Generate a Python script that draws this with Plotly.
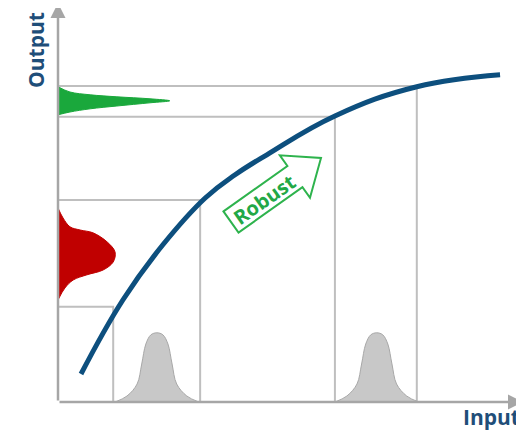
import math
import plotly.graph_objects as go

# ---------------- data (logical units: input 0..10, output 0..10) ----------------
curve_input = [0.50, 1.41, 2.28, 3.20, 3.85, 4.54, 6.02, 7.80, 9.61]
curve_output = [0.70, 2.55, 3.93, 5.10, 5.68, 6.18, 7.15, 7.88, 8.18]

# reference lines: (input, output) operating points
ref_input = [1.20, 3.09, 6.02, 7.80]
ref_output = [2.38, 5.05, 7.13, 7.90]

# input distributions (grey bells on x axis)
bell_centers = [2.15, 6.93]
bell_offsets = [-0.91, -0.65, -0.43, -0.33, -0.24, -0.13, 0.0, 0.13, 0.24, 0.33, 0.43, 0.65, 0.91]
bell_heights = [0.0, 0.15, 0.45, 0.95, 1.45, 1.68, 1.73, 1.68, 1.45, 0.95, 0.45, 0.15, 0.0]

# output distribution (red, wide)
red_width = [0.0, 0.11, 0.26, 0.48, 0.76, 1.07, 1.24, 1.20, 0.98, 0.63, 0.33, 0.15, 0.0]
red_output = [4.85, 4.60, 4.38, 4.30, 4.23, 4.00, 3.75, 3.50, 3.30, 3.18, 3.05, 2.85, 2.55]

# output distribution (green, narrow)
green_width = [0.0, 0.26, 0.70, 1.28, 2.00, 2.43, 2.00, 1.28, 0.70, 0.26, 0.0]
green_output = [7.88, 7.75, 7.68, 7.63, 7.58, 7.53, 7.48, 7.40, 7.33, 7.25, 7.18]

# ---------------- geometry helpers (pixel <-> units) ----------------
PAGE_MARGIN = 8          # default body margin of the html page
W, H = 524 - PAGE_MARGIN, 430 - PAGE_MARGIN
X0, SX = 58, 46.0   # page pixel of input 0, pixels per input unit
Y0, SY = 402, 40.0  # page pixel of output 0, pixels per output unit


def ux(px):
    return (px - X0) / SX


def uy(py):
    return (Y0 - py) / SY


GRID = "#bfbfbf"
AXIS = "#a6a6a6"
BLUE = "#0d4f7e"
LABEL = "#1f4e79"
GREEN = "#22a846"
RED = "#c00000"

fig = go.Figure()

# reference L-lines
for xi, yo in zip(ref_input, ref_output):
    fig.add_trace(go.Scatter(x=[0, xi, xi], y=[yo, yo, 0], mode="lines",
                             line=dict(color=GRID, width=2), hoverinfo="skip", showlegend=False))

# grey bells
for c in bell_centers:
    fig.add_trace(go.Scatter(x=[c + o for o in bell_offsets], y=bell_heights, mode="lines",
                             line=dict(color="#a8a8a8", width=1, shape="spline"),
                             fill="toself", fillcolor="#c8c8c8", hoverinfo="skip", showlegend=False))

# red distribution
fig.add_trace(go.Scatter(x=red_width, y=red_output, mode="lines",
                         line=dict(color=RED, width=1, shape="spline"),
                         fill="toself", fillcolor=RED, hoverinfo="skip", showlegend=False))

# green distribution
fig.add_trace(go.Scatter(x=green_width, y=green_output, mode="lines",
                         line=dict(color="#1aa83c", width=1, shape="spline"),
                         fill="toself", fillcolor="#1aa83c", hoverinfo="skip", showlegend=False))

# main curve
fig.add_trace(go.Scatter(x=curve_input, y=curve_output, mode="lines",
                         line=dict(color=BLUE, width=5, shape="spline", smoothing=1.2),
                         hoverinfo="skip", showlegend=False))

# axes with arrowheads
fig.add_annotation(x=ux(523), y=0, ax=0, ay=0, xref="x", yref="y", axref="x", ayref="y",
                   showarrow=True, arrowhead=2, arrowsize=1.2, arrowwidth=2.5, arrowcolor=AXIS, text="")
fig.add_annotation(x=0, y=uy(3), ax=0, ay=0, xref="x", yref="y", axref="x", ayref="y",
                   showarrow=True, arrowhead=2, arrowsize=1.2, arrowwidth=2.5, arrowcolor=AXIS, text="")

# "Robust" outlined arrow (decoration)
tail = (231, 222)
tip = (321, 158)
dx, dy = tip[0] - tail[0], tip[1] - tail[1]
L = math.hypot(dx, dy)
d = (dx / L, dy / L)
p = (d[1], -d[0])  # perpendicular
sw, hw, hl = 13, 26, 32
base = (tail[0] + d[0] * (L - hl), tail[1] + d[1] * (L - hl))
pts = [
    (tail[0] + p[0] * sw, tail[1] + p[1] * sw),
    (base[0] + p[0] * sw, base[1] + p[1] * sw),
    (base[0] + p[0] * hw, base[1] + p[1] * hw),
    tip,
    (base[0] - p[0] * hw, base[1] - p[1] * hw),
    (base[0] - p[0] * sw, base[1] - p[1] * sw),
    (tail[0] - p[0] * sw, tail[1] - p[1] * sw),
]
path = "M " + " L ".join(f"{ux(a):.4f},{uy(b):.4f}" for a, b in pts) + " Z"
fig.add_shape(type="path", path=path, xref="x", yref="y",
              line=dict(color="#2eb34d", width=2), fillcolor="white")
fig.add_annotation(x=ux(264), y=uy(199), xref="x", yref="y", text="<b>Robust</b>",
                   textangle=-35, showarrow=False,
                   font=dict(family="Open Sans", size=20, color=GREEN))

# axis titles
fig.add_annotation(x=ux(36), y=uy(50), xref="x", yref="y", text="<b>Output</b>",
                   textangle=-90, showarrow=False,
                   font=dict(family="Open Sans", size=21, color=LABEL))
fig.add_annotation(x=ux(491), y=uy(417), xref="x", yref="y", text="<b>Input</b>",
                   showarrow=False, font=dict(family="Open Sans", size=21, color=LABEL))

fig.update_layout(
    width=W, height=H,
    margin=dict(l=0, r=0, t=0, b=0),
    plot_bgcolor="white", paper_bgcolor="white",
    xaxis=dict(range=[ux(PAGE_MARGIN), ux(524)], visible=False, fixedrange=True),
    yaxis=dict(range=[uy(430), uy(PAGE_MARGIN)], visible=False, fixedrange=True),
    showlegend=False,
)

fig.write_html("out.html")
